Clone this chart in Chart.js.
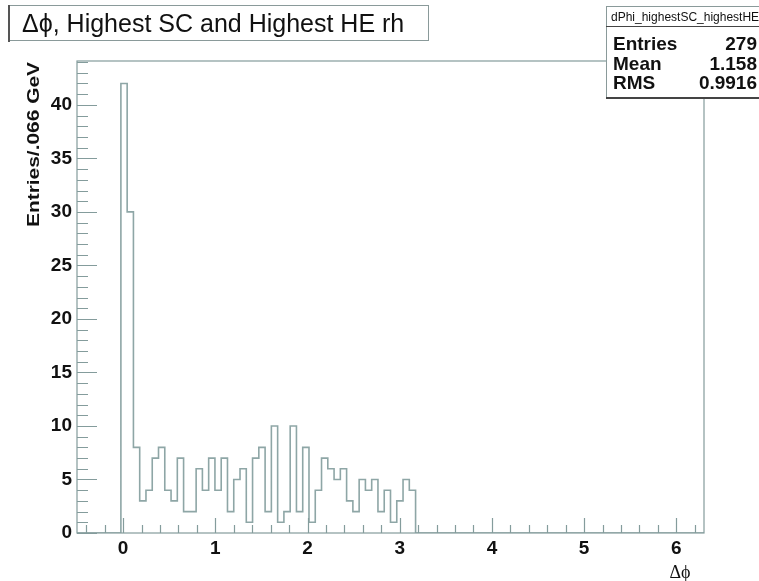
<!DOCTYPE html>
<html>
<head>
<meta charset="utf-8">
<script src="https://cdn.jsdelivr.net/npm/chart.js@4.4.1/dist/chart.umd.min.js"></script>
<style>
  html, body { margin: 0; padding: 0; background: #ffffff; }
  canvas { display: block; }
</style>
</head>
<body>
<canvas id="c" width="759" height="581"></canvas>
<script>
// Histogram definition and contents
const histTitle = 'Δϕ, Highest SC and Highest HE rh';
const histName = 'dPhi_highestSC_highestHE';
const xAxisTitle = 'Δϕ';
const yAxisTitle = 'Entries/.066 GeV';
const xLow = -0.5;
const xHigh = 6.3;
const nBins = 100;
const firstFilledBin = 7;
const binCounts = [42, 30, 8, 3, 4, 7, 8, 4, 3, 7, 2, 2,
                   6, 4, 7, 4, 7, 2, 5, 6, 1, 7, 8, 2, 10, 1, 2, 10, 2, 8,
                   1, 4, 7, 6, 5, 6, 3, 2, 5, 4, 5, 2, 4, 1, 3, 5, 4];
const statLabels = ['Entries', 'Mean', 'RMS'];
const statValues = ['279', '1.158', '0.9916'];
const yMax = 44.1;

const LINE = '#8ea6a6';
const AXIS = '#849c9c';
const SANS = "'Liberation Sans', Arial, sans-serif";

// Step outline: one point per lower bin edge, closed at the upper edge
const binWidth = (xHigh - xLow) / nBins;
const outline = [];
for (let k = 0; k < nBins; k++) {
  const j = k - firstFilledBin;
  const c = (j >= 0 && j < binCounts.length) ? binCounts[j] : 0;
  outline.push({ x: xLow + k * binWidth, y: c });
}
outline.push({ x: xHigh, y: 0 });

// Frame and inward-pointing major/minor ticks
const frameTicks = {
  id: 'frameTicks',
  afterDatasetsDraw(chart) {
    const { ctx, chartArea: a, scales: { x, y } } = chart;
    ctx.save();
    ctx.strokeStyle = AXIS;
    ctx.lineWidth = 1.2;
    ctx.strokeRect(a.left, a.top, a.right - a.left, a.bottom - a.top);
    ctx.beginPath();
    for (let v = 0; v <= 44; v += 1) {
      const py = Math.round(y.getPixelForValue(v)) + 0.5;
      const len = v % 5 === 0 ? 20 : 11;
      ctx.moveTo(a.left, py);
      ctx.lineTo(a.left + len, py);
    }
    for (let i = -2; i <= 31; i++) {
      const v = i * 0.2;
      const px = Math.round(x.getPixelForValue(v)) + 0.5;
      const len = i % 5 === 0 ? 15 : 8;
      ctx.moveTo(px, a.bottom);
      ctx.lineTo(px, a.bottom - len);
    }
    ctx.stroke();
    ctx.restore();
  }
};

// Title pave, statistics box and axis titles
const paves = {
  id: 'paves',
  afterDraw(chart) {
    const { ctx, chartArea: a } = chart;
    ctx.save();
    // title box
    ctx.fillStyle = '#ffffff';
    ctx.fillRect(8, 5, 420, 36);
    ctx.strokeStyle = '#8a9a9a';
    ctx.lineWidth = 1;
    ctx.strokeRect(8.5, 5.5, 420, 35);
    ctx.fillStyle = '#555';
    ctx.fillRect(8, 5, 2, 37);
    ctx.fillStyle = '#111';
    ctx.font = "25px " + SANS;
    ctx.textBaseline = 'alphabetic';
    ctx.textAlign = 'left';
    ctx.fillText(histTitle, 22, 32);

    // statistics box
    ctx.fillStyle = '#ffffff';
    ctx.fillRect(606, 6, 160, 92);
    ctx.strokeStyle = '#8a9a9a';
    ctx.strokeRect(606.5, 6.5, 160, 91);
    ctx.fillStyle = '#444';
    ctx.fillRect(606, 97, 160, 2);
    ctx.beginPath();
    ctx.moveTo(606, 26.5);
    ctx.lineTo(759, 26.5);
    ctx.strokeStyle = '#444';
    ctx.stroke();
    ctx.fillStyle = '#111';
    ctx.font = "12px " + SANS;
    ctx.fillText(histName, 611, 21);
    ctx.font = "bold 19px " + SANS;
    const rows = [43, 63, 82];
    statLabels.forEach((s, i) => {
      ctx.textAlign = 'left';
      ctx.fillText(s, 613, rows[i] + 7);
      ctx.textAlign = 'right';
      ctx.fillText(statValues[i], 757, rows[i] + 7);
    });

    // x axis title
    ctx.textAlign = 'center';
    ctx.font = "18px 'Liberation Serif', 'DejaVu Serif', serif";
    ctx.fillText(xAxisTitle, 680, 578);

    // y axis title, rotated, aligned to the top of the frame
    ctx.translate(39, a.top + 1);
    ctx.rotate(-Math.PI / 2);
    ctx.scale(1.23, 1);
    ctx.textAlign = 'right';
    ctx.font = "bold 17px " + SANS;
    ctx.fillText(yAxisTitle, 0, 0);
    ctx.restore();
  }
};

new Chart(document.getElementById('c'), {
  type: 'line',
  data: {
    datasets: [{
      data: outline,
      stepped: 'before',
      borderColor: LINE,
      borderWidth: 1.6,
      pointRadius: 0,
      fill: false
    }]
  },
  options: {
    responsive: false,
    animation: false,
    layout: { padding: { top: 61, right: 55, left: 0, bottom: 0 } },
    plugins: { legend: { display: false }, tooltip: { enabled: false }, title: { display: false } },
    scales: {
      x: {
        type: 'linear',
        min: xLow,
        max: xHigh,
        grid: { display: false, drawTicks: false },
        border: { display: false },
        ticks: {
          stepSize: 1,
          includeBounds: false,
          autoSkip: false,
          maxRotation: 0,
          padding: 4,
          color: '#111',
          font: { family: SANS, weight: 'bold', size: 19 }
        },
        afterFit(s) { s.height = 48; }
      },
      y: {
        type: 'linear',
        min: 0,
        max: yMax,
        grid: { display: false, drawTicks: false },
        border: { display: false },
        ticks: {
          stepSize: 5,
          includeBounds: false,
          padding: 5,
          color: '#111',
          font: { family: SANS, weight: 'bold', size: 19 }
        },
        afterFit(s) { s.width = 77; }
      }
    }
  },
  plugins: [frameTicks, paves]
});
</script>
</body>
</html>
